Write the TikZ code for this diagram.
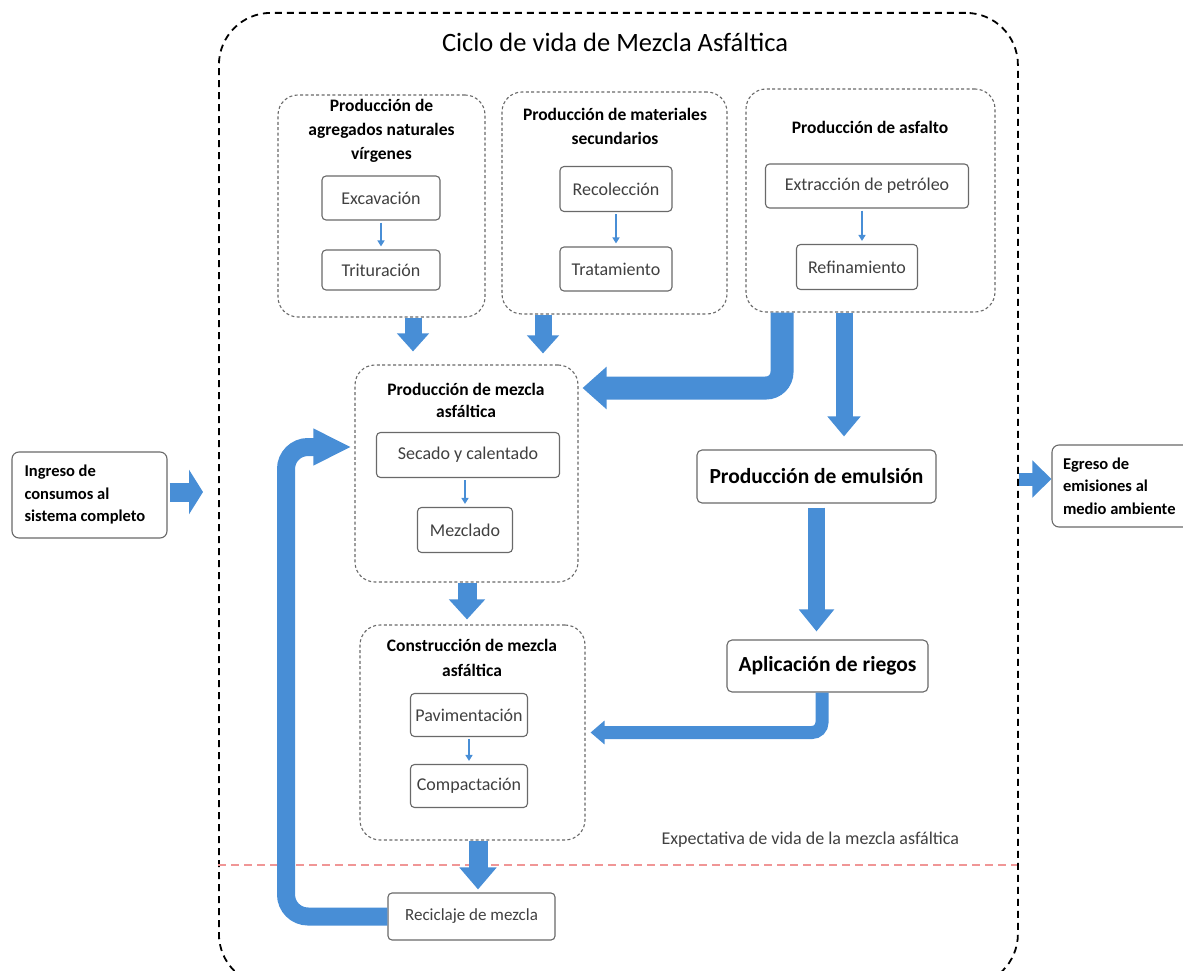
\documentclass[tikz,border=0pt]{standalone}
\usepackage{fontspec}
\setmainfont{Carlito}
\usetikzlibrary{arrows.meta,calc}
\definecolor{flow}{RGB}{72,142,214}
\definecolor{boxline}{RGB}{105,105,105}
\definecolor{steptext}{RGB}{64,64,64}
\definecolor{lifeline}{RGB}{240,150,150}
\begin{document}
\begin{tikzpicture}[x=1pt,y=-1pt,
 frame/.style={draw=black, line width=1.8pt, dash pattern=on 7pt off 5pt, rounded corners=52pt, inner sep=0pt},
 grp/.style={draw=boxline, line width=1.1pt, dash pattern=on 3pt off 2.4pt, rounded corners=20pt, inner sep=0pt},
 stepbox/.style={draw=boxline, line width=1.1pt, rounded corners=4pt, inner sep=0pt, fill=white, text=steptext, font=\fontsize{18}{21}\selectfont},
 grptitle/.style={font=\bfseries\fontsize{17.5}{24}\selectfont, align=center},
 bigstep/.style={draw=boxline, line width=1.1pt, rounded corners=5pt, inner sep=0pt, fill=white, font=\bfseries\fontsize{21.5}{25}\selectfont},
 sidebox/.style={draw=boxline, line width=1.1pt, rounded corners=7pt, inner ysep=0pt, fill=white, font=\bfseries\fontsize{16.5}{22.5}\selectfont, align=flush left},
 thin/.style={draw=flow, line width=1.6pt, -{Triangle[width=7pt,length=6pt]}, shorten <=2pt, shorten >=3pt},
 blk/.style args={#1/#2/#3}{draw=flow, line width=#1, -{Triangle[width=#2,length=#3]}},
]
\useasboundingbox (0,0) rectangle (1183,971);

% outer frame and title
\node[frame, minimum width=799pt, minimum height=973pt, anchor=north west] (frame) at (218,12) {};
\node[font=\fontsize{26.5}{30}\selectfont] (title) at (615,42) {Ciclo de vida de Mezcla Asfáltica};

% group A
\node[grp, minimum width=207pt, minimum height=222pt] (A) at (381.5,206) {};
\node[grptitle] (Atitle) at (381.5,131) {Producción de\\agregados naturales\\vírgenes};
\node[stepbox, minimum width=118pt, minimum height=44pt] (exc) at (381,198) {Excavación};
\node[stepbox, minimum width=118pt, minimum height=40pt] (tri) at (381,270) {Trituración};
\draw[thin] (exc) -- (tri);

% group B
\node[grp, minimum width=225pt, minimum height=222pt] (B) at (614.5,203) {};
\node[grptitle] (Btitle) at (615,126) {Producción de materiales\\secundarios};
\node[stepbox, minimum width=112pt, minimum height=45pt] (rec) at (616,189) {Recolección};
\node[stepbox, minimum width=112pt, minimum height=44pt] (tra) at (616,269) {Tratamiento};
\draw[thin] (rec) -- (tra);

% group C
\node[grp, minimum width=249pt, minimum height=223pt] (C) at (870.5,200.5) {};
\node[grptitle] (Ctitle) at (870,127) {Producción de asfalto};
\node[stepbox, minimum width=203pt, minimum height=44pt] (ext) at (867,186) {Extracción de petróleo};
\node[stepbox, minimum width=121pt, minimum height=45pt] (ref) at (857,267) {Refinamiento};
\draw[thin] ([xshift=-5pt]ext.south) -- ([xshift=5pt]ref.north);

% group D
\node[grp, minimum width=223pt, minimum height=217pt] (D) at (466.5,473.5) {};
\node[grptitle, font=\bfseries\fontsize{17.5}{22}\selectfont] (Dtitle) at (466,400) {Producción de mezcla\\asfáltica};
\node[stepbox, minimum width=183pt, minimum height=45pt] (sec) at (468,455) {Secado y calentado};
\node[stepbox, minimum width=95pt, minimum height=45pt] (mez) at (465,530) {Mezclado};
\draw[thin] (sec.south -| mez) -- (mez);

% group E
\node[grp, minimum width=225pt, minimum height=215pt] (E) at (472.5,732.5) {};
\node[grptitle, font=\bfseries\fontsize{17.5}{25}\selectfont] (Etitle) at (472,658) {Construcción de mezcla\\asfáltica};
\node[stepbox, minimum width=117pt, minimum height=43pt] (pav) at (469,715) {Pavimentación};
\node[stepbox, minimum width=117pt, minimum height=43pt] (com) at (469,786) {Compactación};
\draw[thin] (pav) -- (com);

% single boxes
\node[stepbox, minimum width=167pt, minimum height=47pt, font=\fontsize{17}{20}\selectfont] (recl) at (471.5,916.5) {Reciclaje de mezcla};
\node[bigstep, minimum width=239pt, minimum height=53pt] (emu) at (816.5,476.5) {Producción de emulsión};
\node[bigstep, minimum width=201pt, minimum height=52pt] (rie) at (827.5,666) {Aplicación de riegos};

% side boxes
\node[sidebox, text width=130pt, inner xsep=12.5pt, minimum height=86pt] (ing) at (89.5,495) {Ingreso de\\consumos al\\sistema completo};
\node[sidebox, text width=120pt, inner xsep=11pt, minimum height=82pt] (egr) at (1123,486) {Egreso de\\emisiones al\\medio ambiente};

% life expectancy line
\node[anchor=west, text=steptext, font=\fontsize{18}{21}\selectfont] (life) at (658,840) {Expectativa de vida de la mezcla asfáltica};
\coordinate (lifeL) at (218,865);
\coordinate (lifeR) at (1017,865);
\draw[lifeline, line width=1.4pt, dash pattern=on 8pt off 5pt] (lifeL) -- (lifeR);

% block arrows
\draw[blk=17pt/31pt/18pt, shorten >=13pt] ([xshift=31.5pt]A.south) -- ([xshift=31.5pt]A.south |- D.north);
\draw[blk=17pt/31pt/18pt, shorten >=11pt] ([xshift=-71.5pt]B.south) -- ([xshift=-71.5pt]B.south |- D.north);
\draw[blk=23pt/41pt/24pt, rounded corners=16pt, shorten >=4pt] ([xshift=-88.5pt]C.south) |- ([yshift=85.5pt]D.east);
\draw[blk=17pt/32pt/20pt, shorten >=13pt] ([xshift=-26.5pt]C.south) -- ([xshift=-26.5pt]C.south |- emu.north);
\draw[blk=19pt/35pt/20pt, shorten >=5pt] ([xshift=0.5pt]D.south) -- ([xshift=0.5pt]D.south |- E.north);
\draw[blk=17pt/34pt/22pt, shorten <=4pt, shorten >=8pt] (emu.south) -- (emu.south |- rie.north);
\draw[blk=13pt/23pt/14pt, rounded corners=10pt, shorten >=5pt] ([xshift=-5.5pt]rie.south) |- (E.east);
\draw[blk=19pt/36pt/22pt, shorten >=3pt] ([xshift=5.5pt]E.south) -- ([xshift=5.5pt]E.south |- recl.north);
\coordinate (loopx) at (286,0);
\coordinate (Dw) at ([yshift=26.5pt]D.west);
\draw[blk=18pt/34pt/38pt, rounded corners=22pt, shorten >=3pt] (recl.west) -- (recl.west -| loopx) -- (loopx |- Dw) -- (Dw);
\draw[blk=19pt/44pt/14pt, shorten <=2pt, shorten >=15pt] ([yshift=3pt]ing.east) -- ([yshift=3pt]ing.east -| frame.west);
\draw[blk=13pt/36pt/19pt] ([yshift=7pt]egr.west -| frame.east) -- ([yshift=7pt]egr.west);
\end{tikzpicture}
\end{document}
